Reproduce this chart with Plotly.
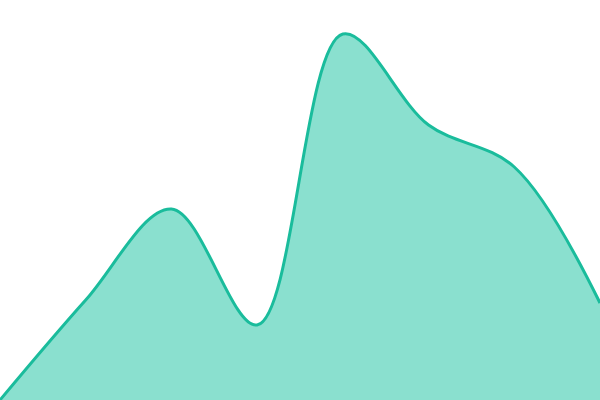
import plotly.graph_objects as go

x_vals = [0, 1, 2, 3, 4, 5, 6, 7]
y_vals = [0, 100, 191, 75, 366, 275, 233, 97]

fig = go.Figure()

fig.add_trace(
    go.Scatter(
        x=x_vals,
        y=y_vals,
        mode="lines",
        line=dict(color="#1abc9c", width=3, shape="spline", smoothing=1),
        fill="tozeroy",
        fillcolor="#8ae0cf",
        hoverinfo="skip",
    )
)

fig.update_xaxes(visible=False, range=[0, 7])
fig.update_yaxes(visible=False, range=[0, 400])

fig.update_layout(
    width=600,
    height=400,
    margin=dict(l=0, r=0, t=0, b=0),
    paper_bgcolor="white",
    plot_bgcolor="white",
    showlegend=False,
)

# drop the default page margin so the plot sits flush in the window
fig.write_html(
    "out.html",
    config={"displayModeBar": False},
    post_script="document.body.style.margin='0';",
)
